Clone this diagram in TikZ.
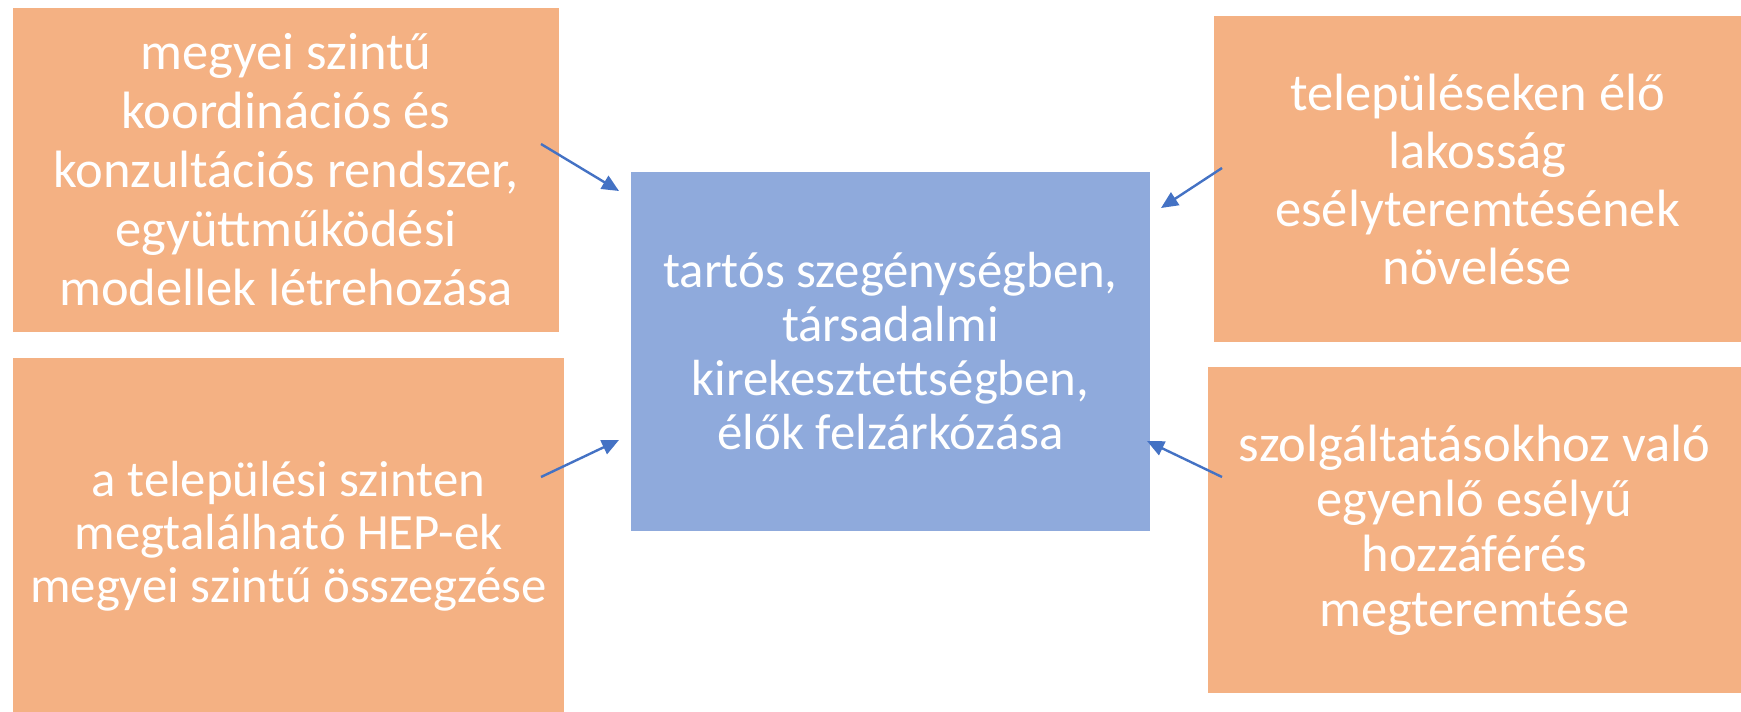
\documentclass[tikz,border=0pt]{standalone}
\usepackage{fontspec}
\setmainfont{Carlito}
\usetikzlibrary{arrows.meta}
\definecolor{boxorange}{HTML}{F4B183}
\definecolor{boxblue}{HTML}{8FAADC}
\definecolor{arrowblue}{HTML}{4472C4}
\begin{document}
\begin{tikzpicture}[x=1pt,y=-1pt,
  box/.style 2 args={rectangle, inner sep=0pt, text=white, align=center, font=\fontsize{#1}{#2}\selectfont},
  arr/.style={draw=arrowblue, line width=2.4pt, -{Triangle[length=17pt,width=15pt]}}]
\useasboundingbox (0,0) rectangle (1741,712);
\node[box={52.5}{59}, fill=boxorange, minimum width=546pt, minimum height=324pt] (tl) at (286,170)
  {megyei szintű\\koordinációs és\\konzultációs rendszer,\\együttműködési\\modellek létrehozása};
\node[box={50.8}{53}, fill=boxorange, minimum width=551pt, minimum height=356pt] (bl) at (288.5,536)
  {a települési szinten\\megtalálható HEP-ek\\megyei szintű összegzése};
\node[box={50.8}{54}, fill=boxblue, minimum width=519pt, minimum height=359pt] (c) at (890.5,351.5)
  {tartós szegénységben,\\társadalmi\\kirekesztettségben,\\élők felzárkózása};
\node[box={52.5}{58}, fill=boxorange, minimum width=527pt, minimum height=326pt] (tr) at (1477.5,179)
  {településeken élő\\lakosság\\esélyteremtésének\\növelése};
\node[box={52.5}{55}, fill=boxorange, minimum width=533pt, minimum height=326pt] (br) at (1474.5,530)
  {szolgáltatásokhoz való\\egyenlő esélyű\\hozzáférés\\megteremtése};
\coordinate (a1s) at (541,144); \coordinate (a1e) at (619,191);
\coordinate (a2s) at (541,477); \coordinate (a2e) at (619,440);
\coordinate (a3s) at (1222,168); \coordinate (a3e) at (1161,208);
\coordinate (a4s) at (1222,477); \coordinate (a4e) at (1147,441);
\draw[arr] (a1s) -- (a1e);
\draw[arr] (a2s) -- (a2e);
\draw[arr] (a3s) -- (a3e);
\draw[arr] (a4s) -- (a4e);
\end{tikzpicture}
\end{document}
